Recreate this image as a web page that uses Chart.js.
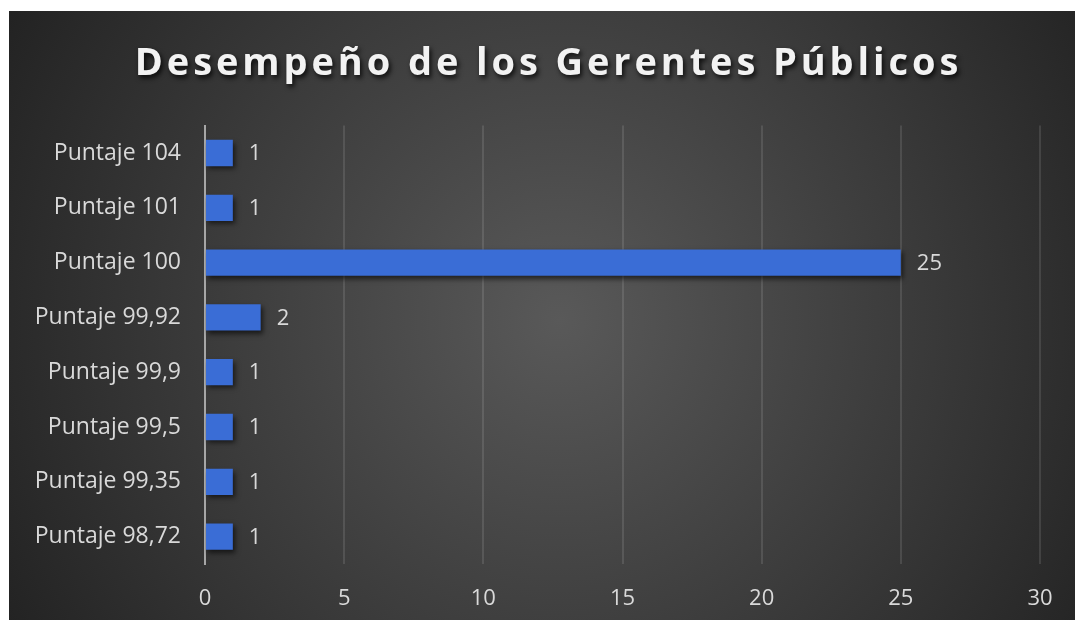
<!DOCTYPE html>
<html>
<head>
<meta charset="utf-8">
<script src="https://cdn.jsdelivr.net/npm/chart.js@4/dist/chart.umd.min.js"></script>
<style>
html,body{margin:0;padding:0;background:#fff;}
#wrap{position:relative;width:1075px;height:622px;}
</style>
</head>
<body>
<div id="wrap"><canvas id="c" width="1075" height="622"></canvas></div>
<script>
const categories = ["Puntaje 104","Puntaje 101","Puntaje 100","Puntaje 99,92","Puntaje 99,9","Puntaje 99,5","Puntaje 99,35","Puntaje 98,72"];
const values = [1,1,25,2,1,1,1,1];
const xTicks = [0,5,10,15,20,25,30];
const titleText = "Desempeño de los Gerentes Públicos";

const bgPlugin = {
  id:'bg',
  beforeDraw(chart){
    const ctx = chart.ctx;
    ctx.save();
    ctx.fillStyle = '#ffffff';
    ctx.fillRect(0,0,chart.width,chart.height);
    const x0=9,y0=11,x1=1075,y1=620;
    const g = ctx.createRadialGradient(560,320,0,560,320,640);
    g.addColorStop(0,'#595959');
    g.addColorStop(0.55,'#3b3b3b');
    g.addColorStop(1,'#222222');
    ctx.fillStyle = g;
    ctx.fillRect(x0,y0,x1-x0,y1-y0);
    ctx.restore();
  }
};

const titlePatch = {
  id:'titlePatch',
  afterLayout(chart){
    const tb = chart.titleBlock;
    if (tb && !tb._patched){
      const orig = tb.draw.bind(tb);
      tb.draw = function(){
        const ctx = this.ctx;
        ctx.save();
        ctx.letterSpacing = '3.9px';
        ctx.shadowColor = 'rgba(0,0,0,0.8)';
        ctx.shadowBlur = 5;
        ctx.shadowOffsetX = 2;
        ctx.shadowOffsetY = 3;
        ctx.translate(24,0);
        orig();
        ctx.restore();
      };
      tb._patched = true;
    }
  }
};

const shadowPlugin = {
  id:'barShadow',
  beforeDatasetsDraw(chart){
    const ctx = chart.ctx;
    ctx.save();
    ctx.shadowColor = 'rgba(0,0,0,0.6)';
    ctx.shadowBlur = 5;
    ctx.shadowOffsetX = 2;
    ctx.shadowOffsetY = 3;
  },
  afterDatasetsDraw(chart){
    chart.ctx.restore();
    const ctx = chart.ctx;
    const meta = chart.getDatasetMeta(0);
    ctx.save();
    ctx.font = '22px "Open Sans"';
    ctx.fillStyle = '#d9d9d9';
    ctx.textAlign = 'left';
    ctx.textBaseline = 'middle';
    meta.data.forEach((bar,i)=>{
      ctx.fillText(String(values[i]), bar.x + 16, bar.y + 1);
    });
    ctx.restore();
  }
};

new Chart(document.getElementById('c'), {
  type:'bar',
  data:{
    labels:categories,
    datasets:[{
      data:values,
      backgroundColor:'#3a6dd6',
      borderWidth:0,
      categoryPercentage:0.48,
      barPercentage:1
    }]
  },
  options:{
    indexAxis:'y',
    responsive:false,
    animation:false,
    layout:{padding:{top:31,right:35,bottom:0,left:9}},
    plugins:{
      legend:{display:false},
      tooltip:{enabled:false},
      title:{
        display:true,
        text:titleText,
        color:'#f2f2f2',
        font:{family:'"Open Sans"',size:38,weight:'bold',lineHeight:1.2},
        padding:{top:10,bottom:39}
      }
    },
    scales:{
      x:{
        min:0,max:30,
        afterBuildTicks(scale){ scale.ticks = xTicks.map(v=>({value:v})); },
        afterFit(scale){ scale.height = 58; },
        grid:{color:'rgba(255,255,255,0.11)',lineWidth:2,drawTicks:false},
        border:{display:false},
        ticks:{color:'#d9d9d9',padding:22,font:{family:'"Open Sans"',size:22}}
      },
      y:{
        afterFit(scale){ scale.width = 196; },
        grid:{display:false},
        border:{display:true,color:'#a6a6a6',width:2},
        ticks:{color:'#d9d9d9',padding:16,font:{family:'"Open Sans"',size:23}}
      }
    }
  },
  plugins:[bgPlugin,titlePatch,shadowPlugin]
});
</script>
</body>
</html>
